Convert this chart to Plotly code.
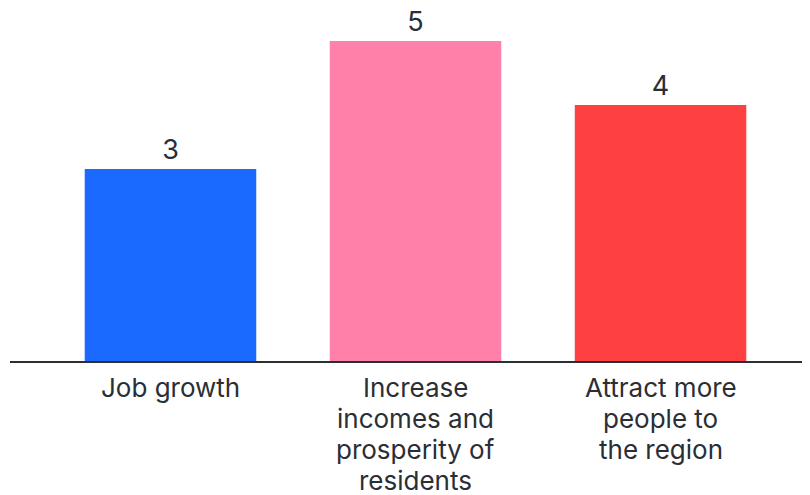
import plotly.graph_objects as go

categories = ["Job growth", "Increase<br>incomes and<br>prosperity of<br>residents", "Attract more<br>people to<br>the region"]
values = [3, 5, 4]
colors = ["#1a6aff", "#ff80a8", "#ff4040"]

TEXT = "#2a2e35"
PLOT_H = 341          # plot area height in px
FIRST_LINE = 26.5     # px below axis to centre of first label line
LINE_STEP = 31        # px between label lines

fig = go.Figure(go.Bar(
    x=list(range(len(categories))),
    y=values,
    width=0.7,
    marker=dict(color=colors, line=dict(width=0)),
    text=[str(v) for v in values],
    textposition="outside",
    textfont=dict(size=27, color=TEXT, family="Inter"),
    cliponaxis=False,
))

# category labels, one annotation per line for tight line spacing
for i, cat in enumerate(categories):
    for j, line in enumerate(cat.split("<br>")):
        fig.add_annotation(
            x=i, xref="x",
            y=-(FIRST_LINE + j * LINE_STEP) / PLOT_H, yref="paper",
            text=line, showarrow=False,
            xanchor="center", yanchor="middle",
            font=dict(size=26, color=TEXT, family="Inter"),
        )

fig.update_layout(
    width=810, height=495,
    margin=dict(l=2, r=8, t=12, b=142),
    paper_bgcolor="white", plot_bgcolor="white",
    font=dict(family="Inter", color=TEXT),
    showlegend=False,
    xaxis=dict(
        range=[-0.655, 2.61],
        tickvals=[0, 1, 2], showticklabels=False,
        showline=True, linecolor=TEXT, linewidth=2,
        showgrid=False, ticks="", zeroline=False,
    ),
    yaxis=dict(range=[0, PLOT_H / 64], visible=False, showgrid=False, zeroline=False),
)

fig.write_html("out.html")
